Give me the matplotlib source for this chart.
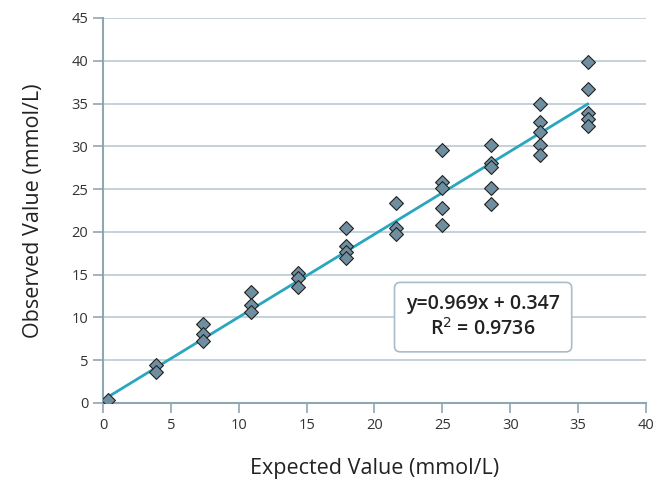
import numpy as np
import matplotlib
matplotlib.use("Agg")
import matplotlib.pyplot as plt

plt.rcParams['font.family'] = ['Open Sans', 'DejaVu Sans']

expected = [0.4,
            3.9, 3.9,
            7.4, 7.4, 7.4,
            10.9, 10.9, 10.9,
            14.4, 14.4, 14.4,
            17.9, 17.9, 17.9, 17.9,
            21.6, 21.6, 21.6,
            25.0, 25.0, 25.0, 25.0, 25.0,
            28.6, 28.6, 28.6, 28.6, 28.6,
            32.2, 32.2, 32.2, 32.2, 32.2,
            35.7, 35.7, 35.7, 35.7, 35.7]
observed = [0.3,
            4.4, 3.6,
            9.2, 8.1, 7.3,
            13.0, 11.4, 10.6,
            15.2, 14.6, 13.6,
            20.5, 18.3, 17.6, 17.0,
            23.4, 20.4, 19.8,
            29.6, 25.8, 25.1, 22.8, 20.8,
            30.2, 28.0, 27.6, 25.1, 23.2,
            34.9, 32.8, 31.7, 30.2, 29.0,
            39.9, 36.7, 33.9, 33.2, 32.4]

slope = 0.969
intercept = 0.347
r2 = 0.9736

fig = plt.figure(figsize=(6.53, 4.90), dpi=100)
ax = fig.add_axes([0.1577, 0.1776, 0.8316, 0.7857])

grid_c = '#b9c9d2'
spine_c = '#8fa6b4'

xl = np.array([min(expected), max(expected)])
ax.plot(xl, slope * xl + intercept, color='#2aa6bf', lw=2, zorder=2)
ax.scatter(expected, observed, marker='D', s=50, facecolor='#6f8fa1',
           edgecolor='#222222', linewidth=0.8, zorder=3)

ax.set_xlim(0, 40)
ax.set_ylim(0, 45)
ax.set_xticks(range(0, 41, 5))
ax.set_yticks(range(0, 46, 5))
ax.grid(axis='y', color=grid_c, lw=1.2)
ax.set_axisbelow(True)
for s in ['top', 'right']:
    ax.spines[s].set_visible(False)
for s in ['left', 'bottom']:
    ax.spines[s].set_color(spine_c)
    ax.spines[s].set_linewidth(1.5)
ax.tick_params(colors=spine_c, labelcolor='#333333', labelsize=10.5,
               length=7, width=1.2)

ax.set_xlabel('Expected Value (mmol/L)', fontsize=15.5, color='#222222', labelpad=18)
ax.set_ylabel('Observed Value (mmol/L)', fontsize=15.5, color='#222222', labelpad=20)

ax.text(0.70, 0.223, f'y={slope}x + {intercept}\nR$^2$ = {r2}',
        transform=ax.transAxes, ha='center', va='center', fontsize=14,
        fontweight='semibold', color='#222222', linespacing=1.25,
        bbox=dict(boxstyle='round,pad=0.6,rounding_size=0.3', fc='white',
                  ec='#a9bcc7', lw=1.2))

fig.savefig('out.png', dpi=100)
